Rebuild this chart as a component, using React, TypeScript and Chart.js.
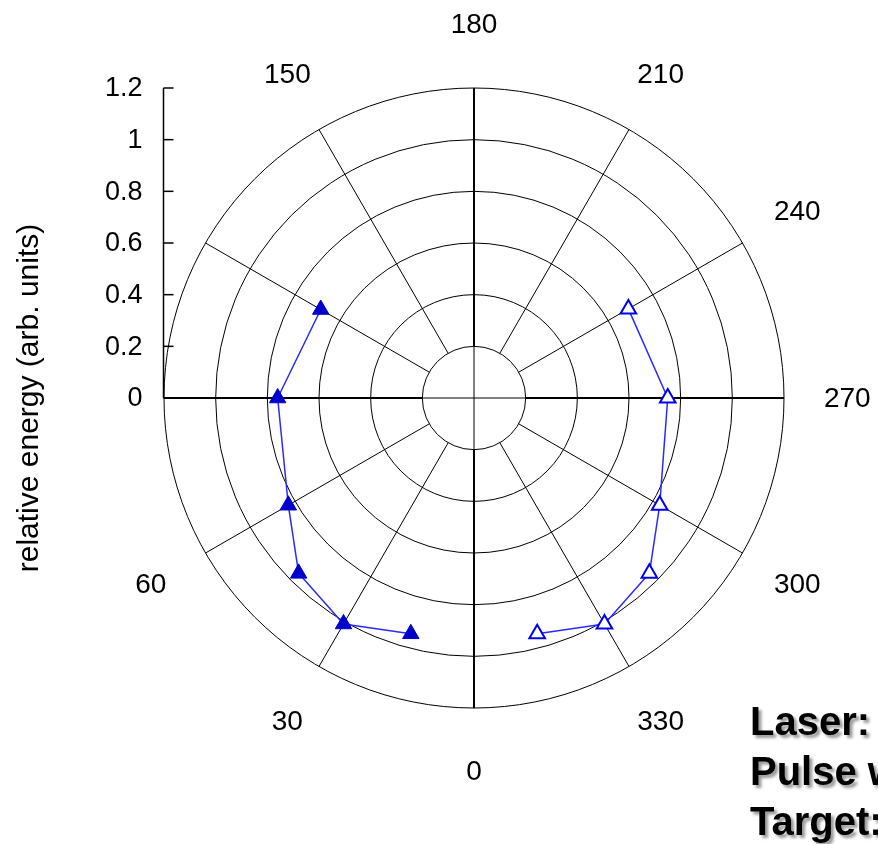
import React, { useEffect, useRef } from 'react';
import { Chart, registerables } from 'chart.js';

Chart.register(...registerables);

// ---- data ----
const ANGLES = [0, 15, 30, 45, 60, 75, 90, 105, 120, 135, 150, 165, 180, 195, 210, 225, 240, 255, 270, 285, 300, 315, 330, 345];
const FILLED_ANGLES = [15, 30, 45, 60, 90, 120];
const FILLED_VALUES = [0.945, 1.01, 0.96, 0.83, 0.76, 0.685];
const OPEN_ANGLES = [240, 270, 300, 315, 330, 345];
const OPEN_VALUES = [0.69, 0.75, 0.83, 0.96, 1.01, 0.945];
const ANGLE_TICK_LABELS = ['0', '30', '60', '150', '180', '210', '240', '270', '300', '330'];
const SPOKE_ANGLES = [0, 30, 60, 90, 120, 150, 180, 210, 240, 270, 300, 330];
const AXIS_ANGLES = [0, 90, 180, 270];
const R_TICKS = [0, 0.2, 0.4, 0.6, 0.8, 1, 1.2];
const R_TICK_LABELS = ['0', '0.2', '0.4', '0.6', '0.8', '1', '1.2'];
const R_MIN = 0;
const R_MAX = 1.2;
const Y_TITLE = 'relative energy (arb. units)';
const NOTE_LINES = ['Laser:', 'Pulse width:', 'Target:'];

const LINE_COLOR = '#2a2aff';
const MARK_COLOR = '#0000cc';
const NONE = 'rgba(0,0,0,0)';

const alignTo = (angles: number[], values: number[]) =>
  ANGLES.map((a) => {
    const i = angles.indexOf(a);
    return i >= 0 ? values[i] : null;
  });

// one dataset per connecting segment, so the radar's closing loop just retraces it
const segmentSets = (angles: number[], values: number[]) =>
  angles.slice(1).map((_, k) => ({
    label: `seg${k}`,
    data: alignTo([angles[k], angles[k + 1]], [values[k], values[k + 1]]),
    borderColor: LINE_COLOR,
    borderWidth: 1.5,
    backgroundColor: NONE,
    fill: false,
    spanGaps: true,
    pointRadius: 0,
    pointHoverRadius: 0,
  }));

const FONT = '"Liberation Sans", Arial, sans-serif';

const decorPlugin = {
  id: 'polarDecor',
  beforeDatasetsDraw(chart: any) {
    const s = chart.scales.r;
    const ctx = chart.ctx as CanvasRenderingContext2D;
    const idx = (a: number) => ANGLES.indexOf(a);
    const dist = (v: number) => s.getDistanceFromCenterForValue(v);
    ctx.save();
    ctx.strokeStyle = '#000';
    // spokes from inner ring to outer ring
    SPOKE_ANGLES.forEach((a) => {
      const p0 = s.getPointPosition(idx(a), dist(R_TICKS[1]));
      const p1 = s.getPointPosition(idx(a), dist(R_MAX));
      ctx.lineWidth = AXIS_ANGLES.includes(a) ? 2 : 1;
      ctx.beginPath();
      ctx.moveTo(p0.x, p0.y);
      ctx.lineTo(p1.x, p1.y);
      ctx.stroke();
    });
    // thin cross inside inner ring
    ctx.lineWidth = 1;
    AXIS_ANGLES.forEach((a) => {
      const p = s.getPointPosition(idx(a), dist(R_TICKS[1]));
      ctx.beginPath();
      ctx.moveTo(s.xCenter, s.yCenter);
      ctx.lineTo(p.x, p.y);
      ctx.stroke();
    });
    // left value axis
    const left = s.getPointPosition(idx(90), dist(R_MAX));
    const x = Math.round(left.x) - 0.5;
    ctx.lineWidth = 1.5;
    ctx.beginPath();
    ctx.moveTo(x, s.yCenter - dist(R_MIN));
    ctx.lineTo(x, s.yCenter - dist(R_MAX));
    ctx.stroke();
    ctx.fillStyle = '#000';
    ctx.font = `27px ${FONT}`;
    ctx.textAlign = 'right';
    ctx.textBaseline = 'middle';
    R_TICKS.forEach((v, i) => {
      const y = s.yCenter - dist(v);
      ctx.beginPath();
      ctx.moveTo(x, y);
      ctx.lineTo(x + 10, y);
      ctx.stroke();
      ctx.fillText(R_TICK_LABELS[i], x - 21, y + 1);
    });
    // angle labels
    ctx.font = `28px ${FONT}`;
    ctx.textAlign = 'center';
    ANGLE_TICK_LABELS.forEach((l) => {
      const p = s.getPointPosition(idx(Number(l)), dist(1.445));
      ctx.fillText(l, p.x, p.y + 1);
    });
    // y title
    ctx.save();
    ctx.translate(38, s.yCenter);
    ctx.rotate(-Math.PI / 2);
    ctx.textBaseline = 'alphabetic';
    ctx.font = `30px ${FONT}`;
    ctx.fillText(Y_TITLE, 0, 0);
    ctx.restore();
    ctx.restore();
  },
  afterDraw(chart: any) {
    const ctx = chart.ctx as CanvasRenderingContext2D;
    ctx.save();
    ctx.font = `bold 40px ${FONT}`;
    ctx.textAlign = 'left';
    ctx.textBaseline = 'alphabetic';
    ctx.fillStyle = '#000';
    ctx.shadowColor = 'rgba(0,0,0,0.4)';
    ctx.shadowOffsetX = 3;
    ctx.shadowOffsetY = 3;
    ctx.shadowBlur = 3;
    NOTE_LINES.forEach((t, i) => ctx.fillText(t, 750, 735 + i * 50));
    ctx.restore();
  },
};

export default function App() {
  const ref = useRef<HTMLCanvasElement | null>(null);
  useEffect(() => {
    if (!ref.current) return;
    const chart = new Chart(ref.current, {
      type: 'radar',
      data: {
        labels: ANGLES.map(String),
        datasets: [
          {
            label: 'filled markers',
            data: alignTo(FILLED_ANGLES, FILLED_VALUES),
            showLine: false,
            fill: false,
            backgroundColor: NONE,
            borderColor: NONE,
            pointStyle: 'triangle',
            pointRadius: 9.5,
            pointBackgroundColor: MARK_COLOR,
            pointBorderColor: MARK_COLOR,
            pointBorderWidth: 1,
          },
          {
            label: 'open markers',
            data: alignTo(OPEN_ANGLES, OPEN_VALUES),
            showLine: false,
            fill: false,
            backgroundColor: NONE,
            borderColor: NONE,
            pointStyle: 'triangle',
            pointRadius: 9,
            pointBackgroundColor: '#ffffff',
            pointBorderColor: '#0000ee',
            pointBorderWidth: 2,
          },
          ...segmentSets(FILLED_ANGLES, FILLED_VALUES),
          ...segmentSets(OPEN_ANGLES, OPEN_VALUES),
        ] as any,
      },
      options: {
        responsive: false,
        animation: false,
        devicePixelRatio: 1,
        layout: { padding: { left: 164, top: 88, right: 94, bottom: 136 } },
        plugins: { legend: { display: false }, tooltip: { enabled: false }, filler: { propagate: false } },
        elements: { line: { tension: 0, fill: false } },
        scales: {
          r: {
            min: R_MIN,
            max: R_MAX,
            startAngle: 180,
            ticks: { display: false, stepSize: 0.2 },
            grid: { circular: true, color: '#000', lineWidth: 1 },
            angleLines: { display: false },
            pointLabels: { display: false },
          },
        },
      },
      plugins: [decorPlugin],
    } as any);
    return () => chart.destroy();
  }, []);
  return (
    <div style={{ position: 'absolute', left: 0, top: 0, width: 878, height: 844, overflow: 'hidden', background: '#fff' }}>
      <canvas ref={ref} width={878} height={844} style={{ display: 'block', width: 878, height: 844 }} />
    </div>
  );
}
